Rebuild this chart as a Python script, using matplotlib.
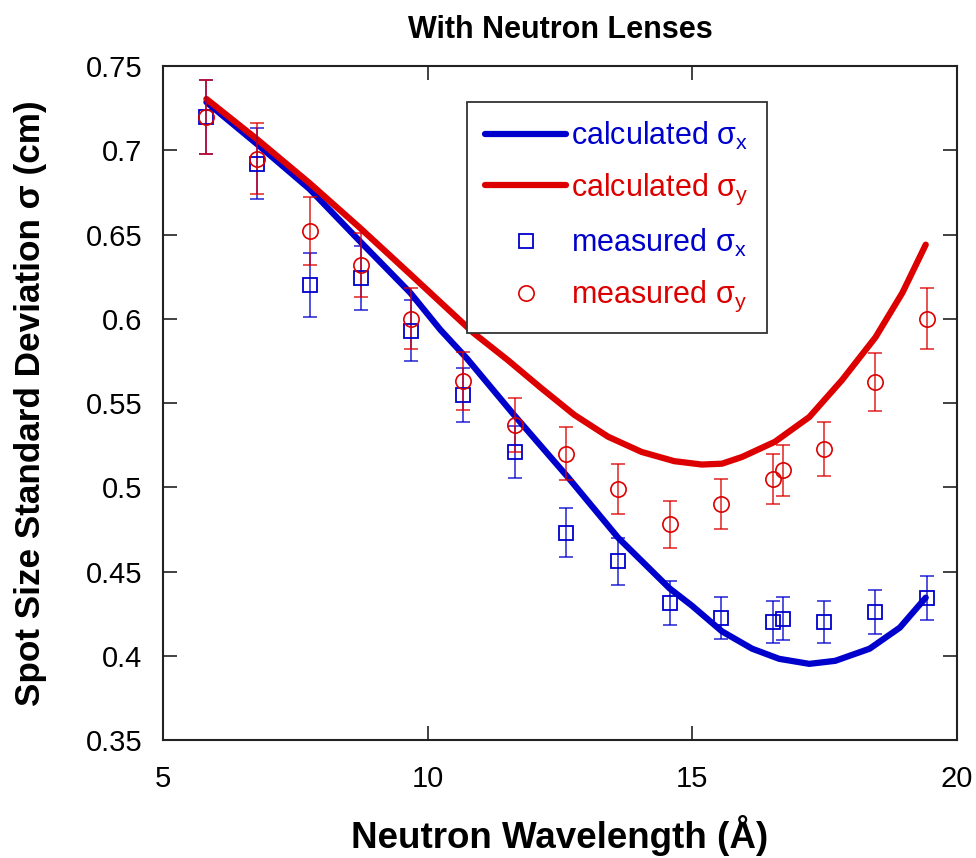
import matplotlib
matplotlib.use('Agg')
import matplotlib.pyplot as plt

plt.rcParams['font.family'] = ['Liberation Sans', 'DejaVu Sans']
plt.rcParams['mathtext.fontset'] = 'custom'
plt.rcParams['mathtext.rm'] = 'Liberation Sans'
plt.rcParams['mathtext.it'] = 'Liberation Sans'

# calculated curves
calc_x_wl = [5.82, 6.78, 7.77, 8.72, 9.67, 10.24, 10.74, 11.63, 12.65, 13.6, 14.57, 14.99, 15.56,
             16.13, 16.64, 17.21, 17.70, 18.35, 18.92, 19.41]
calc_x_sig = [0.7286, 0.7036, 0.677, 0.646, 0.6155, 0.5935, 0.5765, 0.543, 0.506, 0.470, 0.440, 0.4298, 0.4145,
              0.4042, 0.3982, 0.3952, 0.397, 0.4042, 0.4167, 0.4345]

calc_y_wl = [5.82, 6.78, 7.77, 8.72, 9.67, 10.87, 11.51, 12.14, 12.77, 13.41, 14.04, 14.66, 15.18, 15.56,
             15.94, 16.56, 17.21, 17.83, 18.46, 18.97, 19.41]
calc_y_sig = [0.7305, 0.7065, 0.6805, 0.654, 0.6265, 0.5915, 0.5756, 0.559, 0.543, 0.530, 0.521, 0.5155, 0.5135, 0.514,
              0.518, 0.527, 0.5417, 0.5637, 0.589, 0.6155, 0.644]

# measured points
wl = [5.82, 6.78, 7.77, 8.74, 9.69, 10.66, 11.65, 12.61, 13.6, 14.57, 15.54, 16.52, 16.71, 17.49, 18.46, 19.43]
meas_x = [0.720, 0.692, 0.620, 0.624, 0.593, 0.555, 0.521, 0.473, 0.456, 0.4315, 0.4225, 0.420, 0.422, 0.420, 0.426, 0.4345]
err_x = [0.022, 0.021, 0.019, 0.019, 0.018, 0.016, 0.0155, 0.0145, 0.014, 0.013, 0.0125, 0.0125, 0.0128, 0.0125, 0.013, 0.013]
meas_y = [0.720, 0.695, 0.652, 0.632, 0.600, 0.563, 0.537, 0.520, 0.499, 0.478, 0.490, 0.505, 0.510, 0.5226, 0.5625, 0.600]
err_y = [0.022, 0.021, 0.020, 0.019, 0.018, 0.017, 0.016, 0.0155, 0.015, 0.014, 0.015, 0.015, 0.015, 0.016, 0.017, 0.018]

blue = '#0000cc'
red = '#dd0000'

fig = plt.figure(figsize=(9.76, 8.58), dpi=100)
ax = fig.add_axes([0.167, 0.1375, 0.8135, 0.7855])

l1, = ax.plot(calc_x_wl, calc_x_sig, color=blue, lw=4.5, solid_capstyle='round', solid_joinstyle='round')
l2, = ax.plot(calc_y_wl, calc_y_sig, color=red, lw=4.5, solid_capstyle='round', solid_joinstyle='round')

ax.errorbar(wl, meas_x, yerr=err_x, fmt='none', ecolor=blue, elinewidth=1.2, capsize=5, capthick=1.2, alpha=0.8)
ax.errorbar(wl, meas_y, yerr=err_y, fmt='none', ecolor=red, elinewidth=1.2, capsize=5, capthick=1.2, alpha=0.8)
m1, = ax.plot(wl, meas_x, 's', ms=10, mfc='none', mec=blue, mew=1.3)
m2, = ax.plot(wl, meas_y, 'o', ms=11, mfc='none', mec=red, mew=1.2)

ax.set_xlim(5, 20)
ax.set_ylim(0.35, 0.75)
ax.set_xticks([5, 10, 15, 20])
ax.set_yticks([0.35, 0.4, 0.45, 0.5, 0.55, 0.6, 0.65, 0.7, 0.75])
ax.set_yticklabels(['0.35', '0.4', '0.45', '0.5', '0.55', '0.6', '0.65', '0.7', '0.75'])
ax.tick_params(direction='in', length=10, width=1.3, top=True, right=True, labelsize=21, color='#333333')
ax.tick_params(axis='x', pad=18)
ax.tick_params(axis='y', pad=15)
for s in ax.spines.values():
    s.set_linewidth(1.5)
    s.set_color('#222222')

ax.set_xlabel('Neutron Wavelength (Å)', fontsize=26.5, fontweight='bold', labelpad=16)
ax.set_ylabel('Spot Size Standard Deviation σ (cm)', fontsize=25.3, fontweight='bold', labelpad=28)
ax.set_title('With Neutron Lenses', fontsize=22, fontweight='bold', pad=20)

leg = ax.legend([l1, l2, m1, m2],
                ['calculated σ$_{\\mathrm{x}}$', 'calculated σ$_{\\mathrm{y}}$',
                 'measured σ$_{\\mathrm{x}}$', 'measured σ$_{\\mathrm{y}}$'],
                loc='upper left', bbox_to_anchor=(0.383, 0.947), fontsize=22,
                fancybox=False, edgecolor='#333333', framealpha=1,
                handlelength=2.65, handletextpad=0.15, labelspacing=0.65, borderpad=0.6,
                borderaxespad=0)
leg.get_frame().set_linewidth(1.3)
for t, c in zip(leg.get_texts(), [blue, red, blue, red]):
    t.set_color(c)

fig.savefig('out.png', dpi=100)
